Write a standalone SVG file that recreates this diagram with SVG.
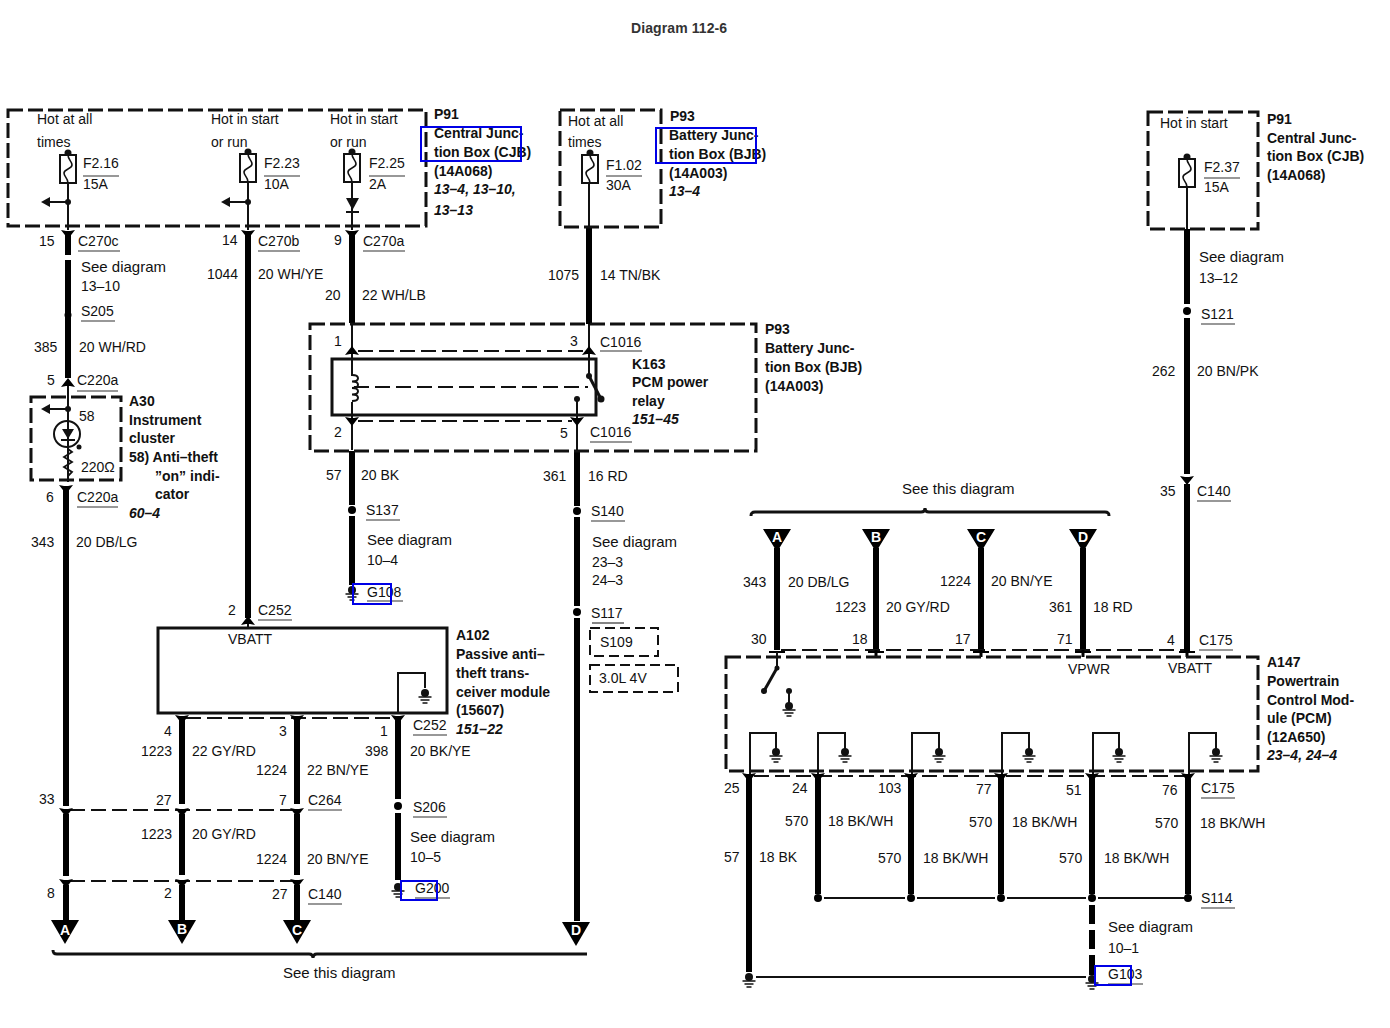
<svg xmlns="http://www.w3.org/2000/svg" width="1390" height="1028" viewBox="0 0 1390 1028">
<style>
text{font-family:"Liberation Sans",Arial,sans-serif;font-size:14px;fill:#111}
.b{font-weight:700}
.i{font-weight:700;font-style:italic}
.s{font-size:15px}
.w{fill:#fff;font-weight:700;text-anchor:middle;font-size:14px}
.title{font-size:14px;font-weight:700;fill:#333;letter-spacing:.1px}
.box{fill:none;stroke:#111;stroke-width:3;stroke-dasharray:15 5}
.solid{fill:none;stroke:#111;stroke-width:3}
.thick{fill:none;stroke:#000;stroke-width:6}
.thin{fill:none;stroke:#111;stroke-width:2}
.dash{fill:none;stroke:#111;stroke-width:2;stroke-dasharray:15 6}
.u{stroke:#333;stroke-width:1.2}
.blue{fill:none;stroke:#0000e6;stroke-width:2}
</style>
<defs>
<g id="fuse"><circle cx="0" cy="-2" r="3.500" fill="#111"/><rect x="-8" y="0" width="16" height="28" fill="#fff" stroke="#111" stroke-width="2"/><path d="M0,0C0,5 4,6 4,10S-4,14 -4,18S0,23 0,28" fill="none" stroke="#111" stroke-width="1.600"/></g>
<g id="branch"><circle cx="0" cy="0" r="3" fill="#111"/><path d="M0,0H-20" stroke="#111" stroke-width="2"/><path d="M-27,0L-18,-5V5Z" fill="#111"/></g>
<path id="down" d="M-7,-4L-2,-3H2L7,-4L0,5Z" fill="#000"/>
<path id="up" d="M-7,4L-2,3H2L7,4L0,-5Z" fill="#000"/>
<g id="gnd"><circle cx="0" cy="-3" r="4" fill="#111"/><path d="M-6.500,1H6.500M-4.500,4H4.500M-2.500,7H2.500" stroke="#111" stroke-width="1.600"/></g>
<circle id="dot" r="4" fill="#000"/>
<path id="tridown" d="M-14,0H14L0,24Z" fill="#000"/>
</defs>
<rect width="1390" height="1028" fill="#fff"/>
<text x="631" y="33" class="title">Diagram 112-6</text>

<g id="connectors">
<path class="thin" d="M68,183V230"/>
<path class="thick" d="M68,231V255M68,260V378"/>
<path class="thin" d="M68,385V482"/>
<path class="thick" d="M66,487V806M66,814V876M66,885V921"/>
<path class="thin" d="M248,182V230M248,614V627"/>
<path class="thick" d="M248,231V618"/>
<path class="thin" d="M352,182V230M352,324V376M352,402V450"/>
<path class="thick" d="M352,231V323M352,451V505M352,516V585"/>
<path class="thick" d="M589,228V324"/>
<path class="thin" d="M589,183V228M589,324V376M577,399V452"/>
<path class="thick" d="M577,452V506M577,517V606M577,618V921"/>
<path d="M589,376L601,399" fill="none" stroke="#111" stroke-width="3"/>
<path class="dash" d="M354,387H588"/>
<path d="M352,375c8,0 8,6.500 0,6.500c8,0 8,6.500 0,6.500c8,0 8,6.500 0,6.500c8,0 8,6.500 0,6.500" fill="none" stroke="#111" stroke-width="2"/>
<circle cx="589" cy="376" r="3" fill="#111"/><circle cx="601" cy="399" r="3.500" fill="#111"/><circle cx="577" cy="399" r="3" fill="#111"/>
<path class="dash" d="M358,351H584M358,421H572"/>
<use href="#up" x="352" y="351"/><use href="#up" x="589" y="351"/>
<use href="#down" x="352" y="421"/><use href="#down" x="577" y="421"/>
<use href="#down" x="68" y="234"/><use href="#down" x="248" y="234"/><use href="#down" x="352" y="234"/>
<use href="#up" x="68" y="383"/><use href="#down" x="66" y="489"/><use href="#up" x="248" y="621"/>
<circle cx="68" cy="315" r="3.500" fill="#000"/>
<use href="#dot" x="352" y="510"/><use href="#dot" x="577" y="511"/><use href="#dot" x="577" y="612"/>
<use href="#gnd" x="352" y="593"/>
<path class="thick" d="M182,716V804M182,814V875M182,885V921M297,716V804M297,814V875M297,885V921M398,716V799M398,813V880"/>
<path class="dash" d="M186,718H394M70,810H293M70,881H293"/>
<use href="#down" x="182" y="719"/><use href="#down" x="297" y="719"/><use href="#down" x="398" y="719"/>
<use href="#down" x="66" y="812"/><use href="#down" x="182" y="812"/><use href="#down" x="297" y="812"/>
<use href="#down" x="66" y="883"/><use href="#down" x="182" y="883"/><use href="#down" x="297" y="883"/>
<use href="#dot" x="398" y="806"/><use href="#gnd" x="398" y="890"/>
<path class="thin" d="M398,714V673H425V688"/><use href="#gnd" x="425" y="696"/>
<use href="#tridown" x="65" y="920"/><use href="#tridown" x="182" y="920"/><use href="#tridown" x="297" y="920"/><use href="#tridown" x="576" y="922"/>
<path class="solid" d="M53,950C53,953 54,954 57,954H309Q313,954 313,958Q313,954 317,954H587"/>
<path class="thick" d="M1187,229V304M1187,318V474M1187,484V651"/>
<path class="thin" d="M1187,187V229"/>
<use href="#dot" x="1187" y="311"/><use href="#down" x="1187" y="480"/>
<path class="solid" d="M751,516C751,513 752,512 755,512H921Q925,512 925,508Q925,512 929,512H1105C1108,512 1109,513 1109,516"/>
<path d="M763,529H791L777,552ZM862,529H890L876,552ZM967,529H995L981,552ZM1069,529H1097L1083,552Z" fill="#000"/>
<path class="thick" d="M777,548V650M876,548V650M981,548V650M1083,548V650"/>
<path class="dash" d="M781,650H1184"/>
<path d="M769,652H785M868,652H884M973,652H989M1075,652H1091M1179,652H1195" stroke="#000" stroke-width="2"/>
<path d="M876,650V657M981,650V657M1083,650V657M1187,650V657" stroke="#000" stroke-width="3"/>
<path d="M777,652V668" stroke="#111" stroke-width="2"/>
<path d="M777,668L764,691" stroke="#111" stroke-width="3"/>
<circle cx="777" cy="668" r="2.500" fill="#111"/><circle cx="764" cy="691" r="3" fill="#111"/><circle cx="789" cy="691" r="3" fill="#111"/>
<path d="M789,691V706" stroke="#111" stroke-width="2"/><use href="#gnd" x="789" y="709"/>
<path class="thin" d="M750,775V733H776V750M818,775V733H845V750M912,775V733H939V750M1002,775V733H1029V752M1093,775V733H1119V752M1189,775V733H1216V752"/>
<use href="#gnd" x="776" y="755"/><use href="#gnd" x="845" y="755"/><use href="#gnd" x="939" y="755"/><use href="#gnd" x="1029" y="755"/><use href="#gnd" x="1119" y="755"/><use href="#gnd" x="1216" y="755"/>
<path class="dash" d="M754,776H1184"/>
<use href="#down" x="749" y="777"/><use href="#down" x="818" y="777"/><use href="#down" x="911" y="777"/><use href="#down" x="1001" y="777"/><use href="#down" x="1092" y="777"/><use href="#down" x="1188" y="777"/>
<path class="thick" d="M749,776V972M818,776V894M911,776V894M1001,776V894M1092,776V894M1188,776V894M1092,905V924M1092,930V949M1092,955V975"/>
<path class="thin" d="M824,898H905M917,898H995M1007,898H1086M1098,898H1188M756,977H1086"/>
<use href="#dot" x="818" y="898"/><use href="#dot" x="911" y="898"/><use href="#dot" x="1001" y="898"/><use href="#dot" x="1092" y="898"/><use href="#dot" x="1188" y="898"/>
<use href="#gnd" x="749" y="980"/><use href="#gnd" x="1092" y="982"/>
</g>

<g id="P91-left">
<rect class="box" x="8" y="110" width="418" height="116"/>
<use href="#fuse" x="68" y="155"/><use href="#fuse" x="248" y="154"/><use href="#fuse" x="352" y="154"/>
<use href="#branch" x="68" y="202"/><use href="#branch" x="248" y="202"/>
<path d="M346,198H359L352.500,210Z" fill="#111"/><path d="M346,212H359" stroke="#111" stroke-width="2"/>
<text x="37" y="124">Hot at all</text><text x="37" y="147">times</text>
<text x="211" y="124">Hot in start</text><text x="211" y="147">or run</text>
<text x="330" y="124">Hot in start</text><text x="330" y="147">or run</text>
<text x="83" y="168">F2.16</text><text x="83" y="189">15A</text><path class="u" d="M83,176H119"/>
<text x="264" y="168">F2.23</text><text x="264" y="189">10A</text><path class="u" d="M264,176H300"/>
<text x="369" y="168">F2.25</text><text x="369" y="189">2A</text><path class="u" d="M369,176H405"/>
<text x="434" y="119" class="b">P91</text>
<text x="434" y="138" class="b">Central Junc-</text>
<text x="434" y="157" class="b">tion Box (CJB)</text>
<text x="434" y="176" class="b">(14A068)</text>
<text x="434" y="194" class="i">13–4, 13–10,</text>
<text x="434" y="215" class="i">13–13</text>
<rect class="blue" x="421" y="127" width="100" height="34"/>
</g>

<g id="P93-top">
<rect class="box" x="560" y="110" width="101" height="117"/>
<use href="#fuse" x="590" y="155"/>
<text x="568" y="126">Hot at all</text><text x="568" y="147">times</text>
<text x="606" y="170">F1.02</text><text x="606" y="190">30A</text><path class="u" d="M606,176H642"/>
<text x="670" y="121" class="b">P93</text>
<text x="669" y="140" class="b">Battery Junc-</text>
<text x="669" y="159" class="b">tion Box (BJB)</text>
<text x="669" y="178" class="b">(14A003)</text>
<text x="669" y="196" class="i">13–4</text>
<rect class="blue" x="656" y="128" width="100" height="35"/>
</g>

<g id="P91-right">
<rect class="box" x="1148" y="112" width="110" height="117"/>
<use href="#fuse" x="1187" y="159"/>
<text x="1160" y="128">Hot in start</text>
<text x="1204" y="172">F2.37</text><text x="1204" y="192">15A</text><path class="u" d="M1204,178H1240"/>
<text x="1267" y="124" class="b">P91</text>
<text x="1267" y="143" class="b">Central Junc-</text>
<text x="1267" y="161" class="b">tion Box (CJB)</text>
<text x="1267" y="180" class="b">(14A068)</text>
</g>

<g id="K163">
<rect class="box" x="310" y="324" width="446" height="127"/>
<rect class="solid" x="332" y="359" width="264" height="56"/>
<text x="334" y="346">1</text><text x="570" y="346">3</text>
<text x="600" y="347">C1016</text><path class="u" d="M600,351H642"/>
<text x="334" y="437">2</text><text x="560" y="438">5</text>
<text x="590" y="437">C1016</text><path class="u" d="M590,442H632"/>
<text x="632" y="369" class="b">K163</text>
<text x="632" y="387" class="b">PCM power</text>
<text x="632" y="406" class="b">relay</text>
<text x="632" y="424" class="i">151–45</text>
<text x="765" y="334" class="b">P93</text>
<text x="765" y="353" class="b">Battery Junc-</text>
<text x="765" y="372" class="b">tion Box (BJB)</text>
<text x="765" y="391" class="b">(14A003)</text>
</g>

<g id="A30">
<rect class="box" x="31" y="397" width="90" height="83"/>
<use href="#branch" x="68" y="409"/>
<circle cx="67" cy="434" r="13" fill="#fff" stroke="#111" stroke-width="2"/>
<path d="M68,422V447" stroke="#111" stroke-width="2"/>
<path d="M62,429H74L68,439Z" fill="#111"/><path d="M61,440H75" stroke="#111" stroke-width="2"/>
<circle cx="79" cy="447" r="2.500" fill="#111"/>
<path d="M68,449L72,452L64,457L72,462L64,467L72,472L68,476V482" fill="none" stroke="#111" stroke-width="1.800"/>
<text x="79" y="421">58</text><text x="81" y="472">220Ω</text>
<text x="129" y="406" class="b">A30</text>
<text x="129" y="425" class="b">Instrument</text>
<text x="129" y="443" class="b">cluster</text>
<text x="129" y="462" class="b">58)  Anti–theft</text>
<text x="155" y="481" class="b">”on” indi-</text>
<text x="155" y="499" class="b">cator</text>
<text x="129" y="518" class="i">60–4</text>
</g>

<g id="A102">
<rect class="solid" x="158" y="628" width="289" height="85"/>
<text x="228" y="644">VBATT</text>
<text x="456" y="640" class="b">A102</text>
<text x="456" y="659" class="b">Passive anti–</text>
<text x="456" y="678" class="b">theft trans-</text>
<text x="456" y="697" class="b">ceiver module</text>
<text x="456" y="715" class="b">(15607)</text>
<text x="456" y="734" class="i">151–22</text>
</g>

<g id="A147">
<rect class="box" x="726" y="657" width="532" height="114"/>
<text x="1068" y="674">VPWR</text><text x="1168" y="673">VBATT</text>
<text x="1267" y="667" class="b">A147</text>
<text x="1267" y="686" class="b">Powertrain</text>
<text x="1267" y="705" class="b">Control Mod-</text>
<text x="1267" y="723" class="b">ule (PCM)</text>
<text x="1267" y="742" class="b">(12A650)</text>
<text x="1267" y="760" class="i">23–4, 24–4</text>
</g>

<g id="S109"><rect x="590" y="628" width="68" height="28" fill="none" stroke="#111" stroke-width="2" stroke-dasharray="10 5"/><text x="600" y="647">S109</text><path class="u" d="M592,623H624"/></g>
<g id="engine3L"><rect x="590" y="665" width="88" height="27" fill="none" stroke="#111" stroke-width="2" stroke-dasharray="10 5"/><text x="599" y="683">3.0L 4V</text></g>

<g id="labels-left">
<text x="39" y="246">15</text><text x="78" y="246">C270c</text><path class="u" d="M78,251H120"/>
<text x="222" y="245">14</text><text x="258" y="246">C270b</text><path class="u" d="M258,251H300"/>
<text x="334" y="245">9</text><text x="363" y="246">C270a</text><path class="u" d="M363,251H405"/>
<text x="81" y="272" class="s">See diagram</text><text x="81" y="291">13–10</text>
<text x="81" y="316">S205</text><path class="u" d="M81,321H115"/>
<text x="34" y="352">385</text><text x="79" y="352">20 WH/RD</text>
<text x="47" y="385">5</text><text x="77" y="385">C220a</text><path class="u" d="M77,391H118"/>
<text x="46" y="502">6</text><text x="77" y="502">C220a</text><path class="u" d="M77,507H118"/>
<text x="31" y="547">343</text><text x="76" y="547">20 DB/LG</text>
<text x="207" y="279">1044</text><text x="258" y="279">20 WH/YE</text>
<text x="325" y="300">20</text><text x="362" y="300">22 WH/LB</text>
<text x="548" y="280">1075</text><text x="600" y="280">14 TN/BK</text>
<text x="326" y="480">57</text><text x="361" y="480">20 BK</text>
<text x="366" y="515">S137</text><path class="u" d="M366,520H400"/>
<text x="367" y="545" class="s">See diagram</text><text x="367" y="565">10–4</text>
<text x="367" y="597">G108</text><path class="u" d="M367,601H403"/>
<rect class="blue" x="353" y="584" width="38" height="20"/>
<text x="543" y="481">361</text><text x="588" y="481">16 RD</text>
<text x="591" y="516">S140</text><path class="u" d="M591,521H625"/>
<text x="592" y="547" class="s">See diagram</text><text x="592" y="567">23–3</text><text x="592" y="585">24–3</text>
<text x="591" y="618">S117</text>
<text x="228" y="615">2</text><text x="258" y="615">C252</text><path class="u" d="M258,620H292"/>
<text x="164" y="736">4</text><text x="279" y="736">3</text><text x="380" y="736">1</text>
<text x="413" y="730">C252</text><path class="u" d="M413,735H447"/>
<text x="141" y="756">1223</text><text x="192" y="756">22 GY/RD</text>
<text x="256" y="775">1224</text><text x="307" y="775">22 BN/YE</text>
<text x="365" y="756">398</text><text x="410" y="756">20 BK/YE</text>
<text x="39" y="804">33</text><text x="156" y="805">27</text><text x="279" y="805">7</text>
<text x="308" y="805">C264</text><path class="u" d="M308,810H342"/>
<text x="413" y="812">S206</text><path class="u" d="M413,817H447"/>
<text x="141" y="839">1223</text><text x="192" y="839">20 GY/RD</text>
<text x="256" y="864">1224</text><text x="307" y="864">20 BN/YE</text>
<text x="410" y="842" class="s">See diagram</text><text x="410" y="862">10–5</text>
<text x="415" y="893">G200</text><path class="u" d="M415,898H450"/>
<rect class="blue" x="401" y="881" width="36" height="19"/>
<text x="47" y="898">8</text><text x="164" y="898">2</text><text x="272" y="899">27</text>
<text x="308" y="899">C140</text><path class="u" d="M308,904H342"/>
<text x="65" y="935" class="w">A</text><text x="182" y="934" class="w">B</text><text x="297" y="935" class="w">C</text><text x="576" y="935" class="w">D</text>
<text x="283" y="978" class="s">See this diagram</text>
</g>

<g id="labels-right">
<text x="1199" y="262" class="s">See diagram</text><text x="1199" y="283">13–12</text>
<text x="1201" y="319">S121</text><path class="u" d="M1201,324H1235"/>
<text x="1152" y="376">262</text><text x="1197" y="376">20 BN/PK</text>
<text x="1160" y="496">35</text><text x="1197" y="496">C140</text><path class="u" d="M1197,501H1231"/>
<text x="902" y="494" class="s">See this diagram</text>
<text x="777" y="542" class="w">A</text><text x="876" y="542" class="w">B</text><text x="981" y="542" class="w">C</text><text x="1083" y="542" class="w">D</text>
<text x="743" y="587">343</text><text x="788" y="587">20 DB/LG</text>
<text x="835" y="612">1223</text><text x="886" y="612">20 GY/RD</text>
<text x="940" y="586">1224</text><text x="991" y="586">20 BN/YE</text>
<text x="1049" y="612">361</text><text x="1093" y="612">18 RD</text>
<text x="751" y="644">30</text><text x="852" y="644">18</text><text x="955" y="644">17</text><text x="1057" y="644">71</text><text x="1167" y="645">4</text>
<text x="1199" y="645">C175</text><path class="u" d="M1199,650H1233"/>
<text x="724" y="793">25</text><text x="792" y="793">24</text><text x="878" y="793">103</text><text x="976" y="794">77</text><text x="1066" y="795">51</text><text x="1162" y="795">76</text>
<text x="1201" y="793">C175</text><path class="u" d="M1201,798H1235"/>
<text x="785" y="826">570</text><text x="828" y="826">18 BK/WH</text>
<text x="969" y="827">570</text><text x="1012" y="827">18 BK/WH</text>
<text x="1155" y="828">570</text><text x="1200" y="828">18 BK/WH</text>
<text x="724" y="862">57</text><text x="759" y="862">18 BK</text>
<text x="878" y="863">570</text><text x="923" y="863">18 BK/WH</text>
<text x="1059" y="863">570</text><text x="1104" y="863">18 BK/WH</text>
<text x="1201" y="903">S114</text><path class="u" d="M1201,908H1235"/>
<text x="1108" y="932" class="s">See diagram</text><text x="1108" y="953">10–1</text>
<text x="1108" y="979">G103</text><path class="u" d="M1108,984H1143"/>
<rect class="blue" x="1095" y="966" width="36" height="19"/>
</g>
</svg>
